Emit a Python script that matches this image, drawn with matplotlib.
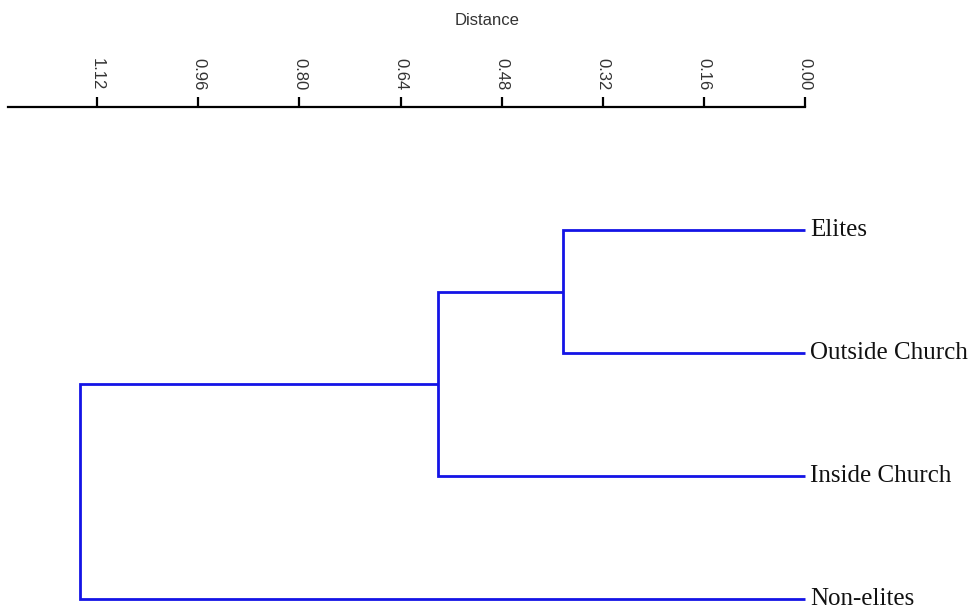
import matplotlib.pyplot as plt

# === Data ====================================================================
leaves = ['Elites', 'Outside Church', 'Inside Church', 'Non-elites']
# merges: (left node, right node, distance); leaves are 0..3, new nodes 4, 5, 6
merges = [(0, 1, 0.383), (4, 2, 0.581), (5, 3, 1.147)]
ticks = [0.00, 0.16, 0.32, 0.48, 0.64, 0.80, 0.96, 1.12]
axis_max = 1.261

# =============================================================================
fig = plt.figure(figsize=(9.74, 6.10), dpi=100)
ax = fig.add_axes([0, 0, 1, 1])

blue = '#1414e6'

# node positions: (distance, y)
pos = {i: (0.0, float(i)) for i in range(len(leaves))}
for k, (a, b, h) in enumerate(merges):
    xa, ya = pos[a]
    xb, yb = pos[b]
    ax.plot([xa, h, h, xb], [ya, ya, yb, yb], c=blue, lw=2,
            solid_joinstyle='miter', solid_capstyle='butt')
    pos[len(leaves) + k] = (h, (ya + yb) / 2)

for i, name in enumerate(leaves):
    ax.text(-0.008, i, name, ha='left', va='center', fontsize=18,
            family='Liberation Serif', color='#111111')

# pixel mapping: 631.9 px per unit, 0 at x=805; leaves at y=230 + 123*i
ax.set_xlim(805 / 631.9, -169 / 631.9)
ax.set_ylim((610 - 230) / 123, -230 / 123)

# Distance scale on the top spine
for s in ['left', 'right', 'bottom']:
    ax.spines[s].set_visible(False)
ax.spines['top'].set_position(('data', (107 - 230) / 123))
ax.spines['top'].set_bounds(0, axis_max)
ax.spines['top'].set_linewidth(1.6)
ax.set_yticks([])
ax.xaxis.set_ticks_position('top')
ax.xaxis.set_label_position('top')
ax.set_xticks(ticks)
ax.set_xticklabels(['%.2f' % t for t in ticks], rotation=270,
                   family='Liberation Sans', fontsize=12, color='#333333')
ax.tick_params(axis='x', direction='out', length=7, width=1.6, pad=5)
ax.set_xlabel('Distance', family='Liberation Sans', fontsize=12,
              color='#333333', labelpad=24)

plt.savefig('out.png', dpi=100)
